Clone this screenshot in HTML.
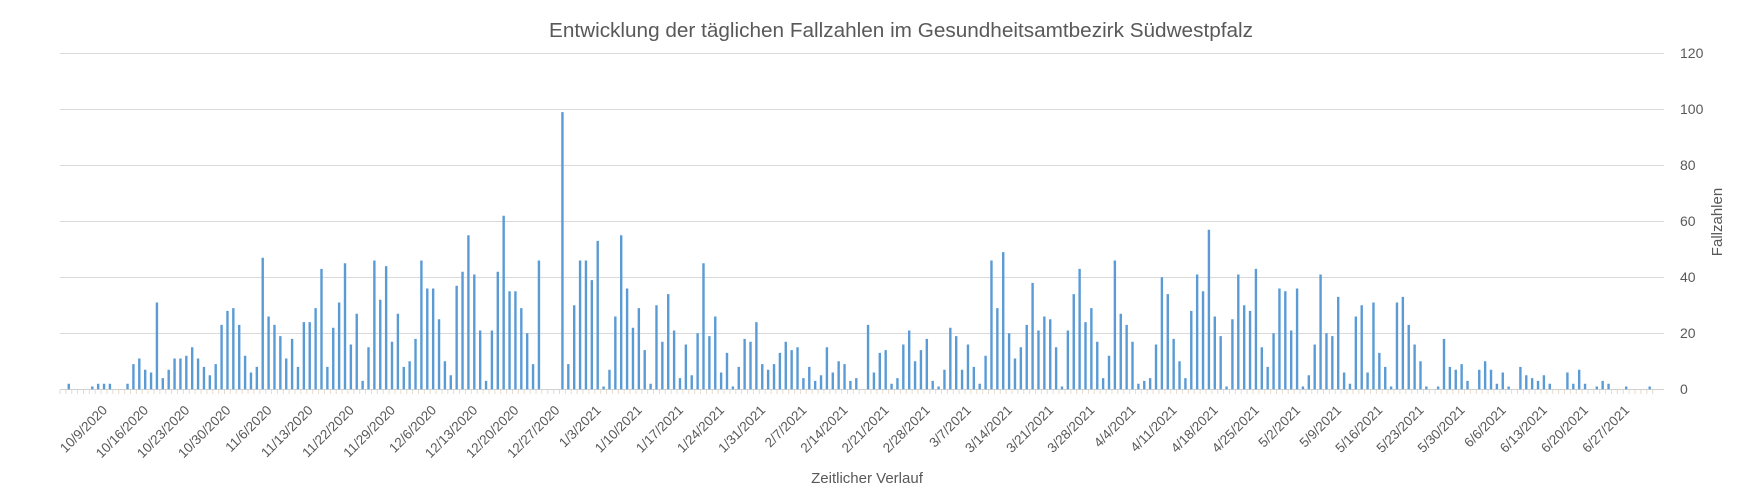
<!DOCTYPE html>
<html><head><meta charset="utf-8"><style>
html,body{margin:0;padding:0;background:#fff;}
svg{display:block;font-family:"Liberation Sans",sans-serif;}
.xl text{font-size:13.5px;fill:#595959;}
.yl text{font-size:14px;fill:#595959;}
</style></head><body>
<svg id="s" width="1742" height="501" viewBox="0 0 1742 501" xmlns="http://www.w3.org/2000/svg">
<text x="901" y="37" text-anchor="middle" font-size="20" fill="#595959" textLength="704" lengthAdjust="spacingAndGlyphs">Entwicklung der täglichen Fallzahlen im Gesundheitsamtbezirk Südwestpfalz</text>
<g stroke="#d9d9d9" stroke-width="1">
<line x1="60" x2="1664" y1="53.5" y2="53.5"/>
<line x1="60" x2="1664" y1="109.5" y2="109.5"/>
<line x1="60" x2="1664" y1="165.5" y2="165.5"/>
<line x1="60" x2="1664" y1="221.5" y2="221.5"/>
<line x1="60" x2="1664" y1="277.5" y2="277.5"/>
<line x1="60" x2="1664" y1="333.5" y2="333.5"/>
</g>
<g id="ticks" stroke="#e6dccc" stroke-width="1"></g>
<line x1="60" x2="1664" y1="389.5" y2="389.5" stroke="#d0d0d0" stroke-width="1"/>
<path id="bars" fill="#5b9bd5" d=""/>
<g class="yl">
<text x="1680" y="58">120</text>
<text x="1680" y="114">100</text>
<text x="1680" y="170">80</text>
<text x="1680" y="226">60</text>
<text x="1680" y="282">40</text>
<text x="1680" y="338">20</text>
<text x="1680" y="394">0</text>
</g>
<text transform="translate(1722,222) rotate(-90)" text-anchor="middle" font-size="15" fill="#595959">Fallzahlen</text>
<text x="867" y="483" text-anchor="middle" font-size="15" fill="#595959">Zeitlicher Verlauf</text>
<g class="xl" text-anchor="end">
<text transform="translate(108,411) rotate(-45)">10/9/2020</text>
<text transform="translate(149.1,411) rotate(-45)">10/16/2020</text>
<text transform="translate(190.3,411) rotate(-45)">10/23/2020</text>
<text transform="translate(231.4,411) rotate(-45)">10/30/2020</text>
<text transform="translate(272.6,411) rotate(-45)">11/6/2020</text>
<text transform="translate(313.7,411) rotate(-45)">11/13/2020</text>
<text transform="translate(354.8,411) rotate(-45)">11/22/2020</text>
<text transform="translate(396,411) rotate(-45)">11/29/2020</text>
<text transform="translate(437.1,411) rotate(-45)">12/6/2020</text>
<text transform="translate(478.3,411) rotate(-45)">12/13/2020</text>
<text transform="translate(519.4,411) rotate(-45)">12/20/2020</text>
<text transform="translate(560.5,411) rotate(-45)">12/27/2020</text>
<text transform="translate(601.7,411) rotate(-45)">1/3/2021</text>
<text transform="translate(642.8,411) rotate(-45)">1/10/2021</text>
<text transform="translate(684,411) rotate(-45)">1/17/2021</text>
<text transform="translate(725.1,411) rotate(-45)">1/24/2021</text>
<text transform="translate(766.2,411) rotate(-45)">1/31/2021</text>
<text transform="translate(807.4,411) rotate(-45)">2/7/2021</text>
<text transform="translate(848.5,411) rotate(-45)">2/14/2021</text>
<text transform="translate(889.7,411) rotate(-45)">2/21/2021</text>
<text transform="translate(930.8,411) rotate(-45)">2/28/2021</text>
<text transform="translate(971.9,411) rotate(-45)">3/7/2021</text>
<text transform="translate(1013.1,411) rotate(-45)">3/14/2021</text>
<text transform="translate(1054.2,411) rotate(-45)">3/21/2021</text>
<text transform="translate(1095.4,411) rotate(-45)">3/28/2021</text>
<text transform="translate(1136.5,411) rotate(-45)">4/4/2021</text>
<text transform="translate(1177.6,411) rotate(-45)">4/11/2021</text>
<text transform="translate(1218.8,411) rotate(-45)">4/18/2021</text>
<text transform="translate(1259.9,411) rotate(-45)">4/25/2021</text>
<text transform="translate(1301.1,411) rotate(-45)">5/2/2021</text>
<text transform="translate(1342.2,411) rotate(-45)">5/9/2021</text>
<text transform="translate(1383.3,411) rotate(-45)">5/16/2021</text>
<text transform="translate(1424.5,411) rotate(-45)">5/23/2021</text>
<text transform="translate(1465.6,411) rotate(-45)">5/30/2021</text>
<text transform="translate(1506.8,411) rotate(-45)">6/6/2021</text>
<text transform="translate(1547.9,411) rotate(-45)">6/13/2021</text>
<text transform="translate(1589,411) rotate(-45)">6/20/2021</text>
<text transform="translate(1630.2,411) rotate(-45)">6/27/2021</text>
</g>
</svg>
<script>
var v=[0,2,0,0,0,1,2,2,2,0,0,2,9,11,7,6,31,4,7,11,11,12,15,11,8,5,9,23,28,29,23,12,6,8,47,26,23,19,11,18,8,24,24,29,43,8,22,31,45,16,27,3,15,46,32,44,17,27,8,10,18,46,36,36,25,10,5,37,42,55,41,21,3,21,42,62,35,35,29,20,9,46,0,0,0,99,9,30,46,46,39,53,1,7,26,55,36,22,29,14,2,30,17,34,21,4,16,5,20,45,19,26,6,13,1,8,18,17,24,9,7,9,13,17,14,15,4,8,3,5,15,6,10,9,3,4,0,23,6,13,14,2,4,16,21,10,14,18,3,1,7,22,19,7,16,8,2,12,46,29,49,20,11,15,23,38,21,26,25,15,1,21,34,43,24,29,17,4,12,46,27,23,17,2,3,4,16,40,34,18,10,4,28,41,35,57,26,19,1,25,41,30,28,43,15,8,20,36,35,21,36,1,5,16,41,20,19,33,6,2,26,30,6,31,13,8,1,31,33,23,16,10,1,0,1,18,8,7,9,3,0,7,10,7,2,6,1,0,8,5,4,3,5,2,0,0,6,2,7,2,0,1,3,2,0,0,1,0,0,0,1,0];
var d="",t="",s=5.877,x0=62.9,y0=389.3,k=2.8;
for(var i=0;i<v.length;i++){var c=x0+i*s;if(v[i]>0){var h=v[i]*k;d+="M"+(c-1.2).toFixed(2)+" "+(y0-h).toFixed(2)+"h2.4v"+h.toFixed(2)+"h-2.4z";}
t+='<line x1="'+(c-s/2).toFixed(2)+'" x2="'+(c-s/2).toFixed(2)+'" y1="390" y2="394"/>';}
document.getElementById("bars").setAttribute("d",d);
document.getElementById("ticks").innerHTML=t;
</script>
</body></html>
